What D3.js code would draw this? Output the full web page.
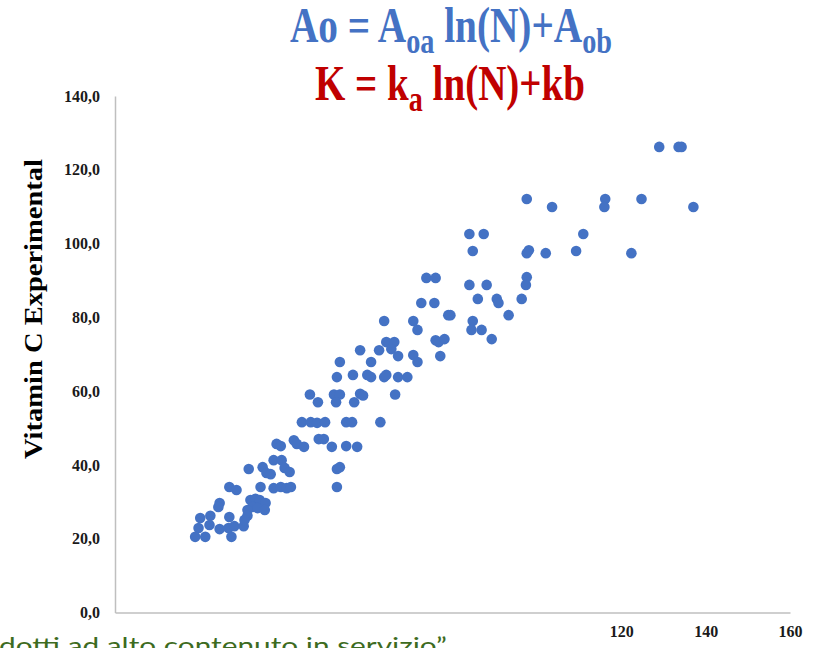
<!DOCTYPE html>
<html>
<head>
<meta charset="utf-8">
<script src="https://cdn.jsdelivr.net/npm/d3@7"></script>
<style>
  body { margin: 0; background: #fff; }
  svg { display: block; }
</style>
</head>
<body>
<div id="scatter"></div>
<script>
// values
var vitCCalc = [129.0,133.6,134.3,97.6,103.6,116.2,116.0,124.8,137.1,
  84.0,87.4,111.0,84.8,98.1,97.6,102.1,109.3,122.4,
  73.8,76.0,97.6,97.4,84.0,88.1,86.0,90.5,90.9,96.4,
  72.6,75.7,79.0,79.5,93.3,63.8,70.7,84.8,71.7,84.5,86.9,
  76.0,76.7,78.1,89.3,64.3,66.2,65.5,67.1,58.1,62.6,70.7,71.7,77.1,
  53.3,60.7,52.6,56.4,59.8,60.7,63.8,64.3,67.1,69.3,
  46.2,51.9,53.3,52.4,48.1,58.1,58.8,56.7,66.4,
  44.3,46.4,47.9,49.8,54.8,56.2,62.9,
  38.3,39.3,42.4,43.1,44.8,48.3,49.5,51.4,54.8,57.4,
  31.7,35.0,35.9,36.9,37.6,39.5,40.2,41.4,52.6,53.3,
  27.1,28.8,34.5,37.6,39.3,40.7,41.7,52.6,
  32.1,33.3,34.3,35.7,32.6,31.4,33.8,35.5,
  24.8,24.5,20.2,22.6,27.1,31.4,
  19.8,22.4,24.8,26.9,28.3,30.5,30.7,
  19.0,21.4,27.6];

var vitCExp = [126.2,126.2,126.2,112.1,109.9,112.1,109.9,112.1,109.9,
  102.6,102.6,102.6,98.0,98.2,97.4,97.4,98.0,97.4,
  90.7,90.7,90.9,88.8,88.8,88.8,85.0,85.0,83.9,85.0,
  83.9,83.9,80.6,80.6,80.6,79.0,79.0,79.0,76.6,76.6,76.6,
  73.8,73.3,74.1,74.1,73.3,73.3,71.4,69.5,71.1,71.1,69.8,67.9,69.5,
  67.9,67.9,63.8,64.4,64.4,63.8,63.8,64.4,63.8,63.8,
  59.1,59.1,59.1,57.0,57.0,59.3,58.8,57.0,59.1,
  51.6,51.6,51.4,51.6,51.6,51.6,51.6,
  45.7,45.1,46.7,45.7,44.9,47.0,47.0,44.9,45.1,44.9,
  38.9,39.4,37.8,37.5,41.3,41.3,39.2,38.1,38.9,39.4,
  34.0,33.2,34.0,33.7,34.0,33.7,34.0,34.0,
  30.5,30.8,30.5,29.7,28.6,27.8,28.3,27.8,
  29.7,28.6,25.6,26.2,25.9,26.2,
  22.9,23.7,22.6,22.9,23.4,23.4,25.1,
  20.5,20.5,20.5];

var yTicks = [0, 20, 40, 60, 80, 100, 120, 140];
var xTicks = [120, 140, 160];   // the lower ones are hidden under the caption

var svgWidth = 833;
var svgHeight = 648;

var svg = d3.select("#scatter")
  .append("svg")
  .attr("width", svgWidth)
  .attr("height", svgHeight);

var xScale = d3.scaleLinear().domain([0, 160]).range([115, 790]);
var yScale = d3.scaleLinear().domain([0, 140]).range([612.5, 96]);

var serif = "'Liberation Serif', 'Times New Roman', serif";

// y axis
var yAxis = d3.axisLeft(yScale)
  .tickValues(yTicks)
  .tickSize(0)
  .tickPadding(15)
  .tickFormat(function(d) { return d.toFixed(1).replace(".", ","); });

var yG = svg.append("g")
  .attr("transform", "translate(" + xScale(0) + ",0)")
  .call(yAxis);

// x axis
var xAxis = d3.axisBottom(xScale)
  .tickValues(xTicks)
  .tickSize(0)
  .tickPadding(13)
  .tickFormat(d3.format("d"));

var xG = svg.append("g")
  .attr("transform", "translate(0," + yScale(0) + ")")
  .call(xAxis);

[yG, xG].forEach(function(g) {
  g.select(".domain").attr("stroke", "#bfbfbf").attr("stroke-width", 1.5);
  g.selectAll("text")
    .attr("font-family", serif)
    .attr("font-weight", "bold")
    .attr("font-size", "16px")
    .attr("fill", "#1a1a1a");
});

// points
svg.append("g")
  .selectAll("circle")
  .data(vitCCalc)
  .enter()
  .append("circle")
  .attr("cx", function(d) { return xScale(d); })
  .attr("cy", function(d, i) { return yScale(vitCExp[i]); })
  .attr("r", 5.3)
  .attr("fill", "#4472c4");

// y axis title
svg.append("text")
  .attr("transform", "translate(42," + 309 + ") rotate(-90)")
  .attr("text-anchor", "middle")
  .attr("font-family", serif)
  .attr("font-weight", "bold")
  .attr("font-size", "25px")
  .attr("fill", "#000")
  .attr("textLength", 300)
  .attr("lengthAdjust", "spacingAndGlyphs")
  .text("Vitamin C Experimental");

// formulas
var f1 = svg.append("text")
  .attr("x", 290)
  .attr("y", 42)
  .attr("font-family", serif)
  .attr("font-weight", "bold")
  .attr("font-size", "50px")
  .attr("fill", "#4472c4")
  .attr("textLength", 322)
  .attr("lengthAdjust", "spacingAndGlyphs");
f1.append("tspan").text("Ao = A");
f1.append("tspan").attr("font-size", "36px").attr("dy", 11).text("oa");
f1.append("tspan").attr("dy", -11).text(" ln(N)+A");
f1.append("tspan").attr("font-size", "36px").attr("dy", 11).text("ob");

var f2 = svg.append("text")
  .attr("x", 315)
  .attr("y", 100)
  .attr("font-family", serif)
  .attr("font-weight", "bold")
  .attr("font-size", "50px")
  .attr("fill", "#c00000")
  .attr("textLength", 270)
  .attr("lengthAdjust", "spacingAndGlyphs");
f2.append("tspan").text("K = k");
f2.append("tspan").attr("font-size", "36px").attr("dy", 11).text("a");
f2.append("tspan").attr("dy", -11).text(" ln(N)+kb");

// caption cut at the bottom edge
svg.append("text")
  .attr("x", -1)
  .attr("y", 654)
  .attr("font-family", "Lato, 'Open Sans', sans-serif")
  .attr("font-size", "24px")
  .attr("fill", "#3d6b21")
  .attr("textLength", 448)
  .attr("lengthAdjust", "spacingAndGlyphs")
  .text("dotti ad alto contenuto in servizio\u201d");
</script>
</body>
</html>
